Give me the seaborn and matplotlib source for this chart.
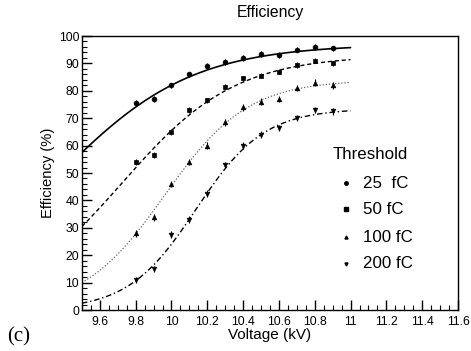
import numpy as np
import pandas as pd
import matplotlib
matplotlib.use("Agg")
import matplotlib.pyplot as plt
import seaborn as sns
from matplotlib.ticker import MultipleLocator, FuncFormatter

# ---- data ----
voltage = [9.8, 9.9, 10.0, 10.1, 10.2, 10.3, 10.4, 10.5, 10.6, 10.7, 10.8, 10.9]
eff_25 = [75.5, 77.0, 82.0, 86.0, 89.0, 90.5, 92.0, 93.5, 93.0, 95.0, 96.0, 95.5]
eff_50 = [54.0, 56.5, 65.0, 73.0, 76.5, 81.5, 84.5, 85.5, 87.0, 89.5, 91.0, 90.0]
eff_100 = [28.0, 33.8, 46.0, 54.0, 60.0, 68.5, 74.0, 76.0, 77.0, 81.0, 83.0, 82.0]
eff_200 = [11.0, 15.0, 27.5, 33.0, 42.5, 53.0, 60.0, 64.0, 66.5, 70.0, 73.0, 72.5]
err_25 = [1.0] * 12
err_50 = [1.0] * 12
err_100 = [1.2] * 12
err_200 = [1.2] * 12

labels = ["25  fC", "50 fC", "100 fC", "200 fC"]
# sigmoid fit parameters: plateau, midpoint (kV), width (kV)
fit_plateau = [97.0, 93.0, 84.0, 73.5]
fit_mid = [9.358, 9.726, 9.963, 10.137]
fit_width = [0.377, 0.3155, 0.2314, 0.19]
fit_range = [9.5, 11.0]

series = [eff_25, eff_50, eff_100, eff_200]
errors = [err_25, err_50, err_100, err_200]

sns.set_style("ticks")
plt.rcParams["font.family"] = ["Liberation Sans", "DejaVu Sans"]
plt.rcParams["text.color"] = "black"
plt.rcParams["axes.labelcolor"] = "black"
plt.rcParams["xtick.color"] = "black"
plt.rcParams["ytick.color"] = "black"

fig = plt.figure(figsize=(4.71, 3.51), dpi=100)
ax = fig.add_axes([0.174, 0.1168, 0.9724 - 0.174, 0.8974 - 0.1168])

markers = ["o", "s", "^", "v"]
msizes = [12, 11, 11, 11]
line_styles = ["-", (0, (3, 2)), (0, (1, 1.5)), (0, (4, 2, 1, 2))]
line_colors = ["black", "black", "#666666", "black"]
line_widths = [1.2, 1.0, 0.9, 1.0]

for i in range(4):
    vv = np.linspace(fit_range[0], fit_range[1], 200)
    fit_df = pd.DataFrame({
        "V": vv,
        "E": fit_plateau[i] / (1 + np.exp(-(vv - fit_mid[i]) / fit_width[i])),
    })
    sns.lineplot(data=fit_df, x="V", y="E", ax=ax, color=line_colors[i],
                 linestyle=line_styles[i], linewidth=line_widths[i], legend=False)
    pts = pd.DataFrame({"V": voltage, "E": series[i]})
    ax.errorbar(voltage, series[i], yerr=errors[i], fmt="none",
                ecolor="black", elinewidth=0.8, capsize=0)
    sns.scatterplot(data=pts, x="V", y="E", ax=ax, marker=markers[i],
                    s=msizes[i], color="black", edgecolor="black", linewidth=0.5,
                    legend=False, zorder=5)

ax.set_xlim(9.5, 11.6)
ax.set_ylim(0, 100)
ax.xaxis.set_major_locator(MultipleLocator(0.2))
ax.xaxis.set_minor_locator(MultipleLocator(0.05))
ax.yaxis.set_major_locator(MultipleLocator(10))
ax.yaxis.set_minor_locator(MultipleLocator(2))
ax.xaxis.set_major_formatter(FuncFormatter(lambda v, p: "%g" % round(v, 2)))
ax.tick_params(axis="both", which="both", direction="in", top=False, right=False)
ax.tick_params(axis="both", which="major", length=7, width=1.0, labelsize=8.8)
ax.tick_params(axis="both", which="minor", length=3.5, width=0.8)
ax.tick_params(axis="x", which="major", pad=4)
ax.tick_params(axis="y", which="major", pad=2)
for sp in ax.spines.values():
    sp.set_visible(True)
    sp.set_linewidth(1.0)
    sp.set_color("black")

ax.set_xlabel("Voltage (kV)", fontsize=11, labelpad=0)
ax.set_ylabel("Efficiency (%)", fontsize=10.6, labelpad=3)
fig.text(270 / 471, 1 - 13 / 351, "Efficiency", ha="center", va="center", fontsize=11.3)
fig.text(7 / 471, 1 - 337 / 351, "(c)", ha="left", va="center", fontsize=15,
         family=["Liberation Serif", "DejaVu Serif"])

# legend (manual, ROOT-like)
W, H = 471, 351
fig.text(333 / W, 1 - 154 / H, "Threshold", ha="left", va="center", fontsize=12.2)
leg_y = [183, 209, 237, 264]
leg_ms = [2.5, 3.2, 2.2, 2.2]
for i in range(4):
    fig.lines.append(plt.Line2D([346 / W], [1 - leg_y[i] / H], marker=markers[i],
                                markersize=leg_ms[i], color="black", linestyle="none",
                                transform=fig.transFigure))
    fig.text(363 / W, 1 - leg_y[i] / H, labels[i], ha="left", va="center", fontsize=12.2)

fig.savefig("out.png", dpi=100)
